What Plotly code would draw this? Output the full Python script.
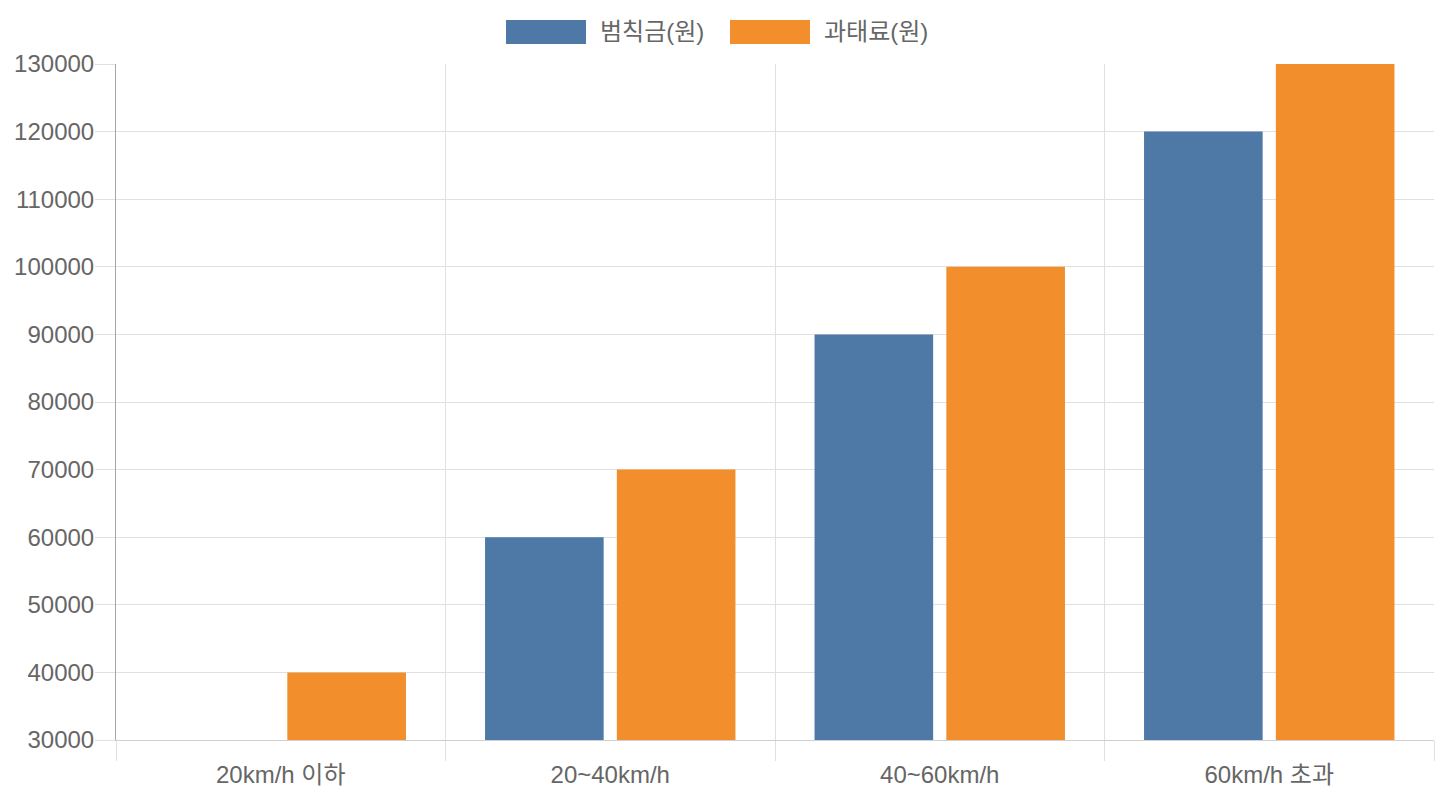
import plotly.graph_objects as go

categories = ["20km/h 이하", "20~40km/h", "40~60km/h", "60km/h 초과"]
series_names = ["범칙금(원)", "과태료(원)"]
fine_values = [30000, 60000, 90000, 120000]
penalty_values = [40000, 70000, 100000, 130000]
colors = ["#4E79A7", "#F28E2B"]

FONT = "Liberation Sans, Arial, Noto Sans CJK KR, sans-serif"
TXT = "#666666"
GRID = "#e0e0e0"

fig = go.Figure()
for name, vals, col in zip(series_names, [fine_values, penalty_values], colors):
    fig.add_trace(go.Bar(x=categories, y=vals, name=name, marker=dict(color=col, line=dict(width=0)),
                         showlegend=False))

W, H = 1440, 800
L, R, T, B = 116, 6, 64, 60
pw, ph = W - L - R, H - T - B

def px(x):
    return (x - L) / pw

def py(y):
    return (H - B - y) / ph

# manual legend (Chart.js-style wide boxes)
legend_items = [(506, 598), (730, 822)]
for (bx, tx), name, col in zip(legend_items, series_names, colors):
    fig.add_shape(type="rect", xref="paper", yref="paper",
                  x0=px(bx), x1=px(bx + 80), y0=py(44), y1=py(20),
                  fillcolor=col, line=dict(width=0))
    fig.add_annotation(xref="paper", yref="paper", x=px(tx), y=py(32), text=name,
                       showarrow=False, xanchor="left", yanchor="middle",
                       font=dict(family=FONT, size=24, color=TXT))

fig.update_layout(
    width=W, height=H,
    margin=dict(l=L, r=R, t=T, b=B, pad=0),
    paper_bgcolor="white", plot_bgcolor="white",
    barmode="group", bargap=0.2, bargroupgap=0.1,
    font=dict(family=FONT, size=24, color=TXT),
)
fig.update_xaxes(
    type="category", tickson="boundaries", showgrid=True, gridcolor=GRID, gridwidth=1,
    ticks="outside", ticklen=20, tickcolor=GRID, tickwidth=1, ticklabelstandoff=13,
    showline=True, linecolor="#cfcfcf", linewidth=1, mirror=False,
    tickfont=dict(family=FONT, size=24, color=TXT), zeroline=False, fixedrange=True,
)
fig.update_yaxes(
    range=[30000, 130000], dtick=10000, tick0=30000, showgrid=True, gridcolor=GRID, gridwidth=1,
    ticks="outside", ticklen=20, tickcolor=GRID, tickwidth=1, ticklabelstandoff=-4,
    showline=True, linecolor="#a6a6a6", linewidth=1,
    tickfont=dict(family=FONT, size=24, color=TXT), zeroline=False,
    tickformat="d", fixedrange=True,
)

fig.write_html("out.html")
